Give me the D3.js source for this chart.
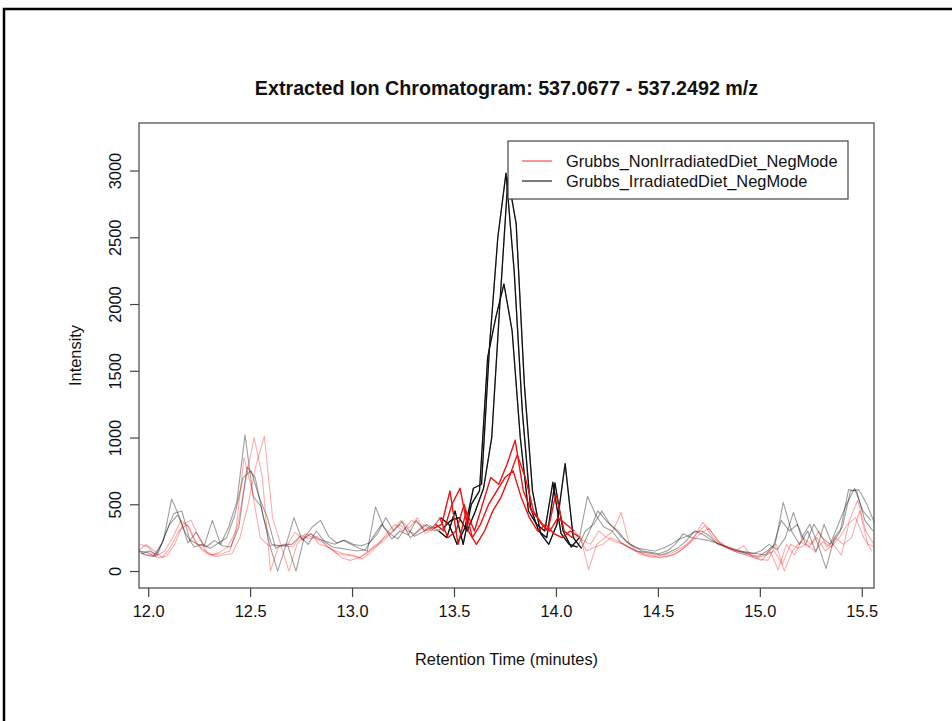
<!DOCTYPE html>
<html>
<head>
<meta charset="utf-8">
<script src="https://cdn.jsdelivr.net/npm/d3@7"></script>
<style>
  body { margin: 0; background: #fff; }
  svg { display: block; font-family: "Liberation Sans", Arial, sans-serif; }
</style>
</head>
<body>
<svg></svg>
<script>
const groupNames = ['Grubbs_NonIrradiatedDiet_NegMode', 'Grubbs_IrradiatedDiet_NegMode']
const titleText = 'Extracted Ion Chromatogram: 537.0677 - 537.2492 m/z'
const xTicks = [12.0, 12.5, 13.0, 13.5, 14.0, 14.5, 15.0, 15.5]
const yTicks = [0, 500, 1000, 1500, 2000, 2500, 3000]

// scan times: first scan of each sample, then one scan every 0.04 min
const scanStep = 0.04
const nonIrrStarts = [11.96, 11.97, 11.95]
const irrStarts = [11.955, 11.965, 11.945]
// integrated peak bounds (minutes) that are drawn in full colour
const nonIrrWindow = [13.40, 14.11]
const irrWindow = [13.41, 14.13]

const nonIrr1 = [200,180,110,150,250,380,330,200,150,120,
  130,150,350,700,1000,700,0,190,190,290,
  240,280,200,180,150,130,120,100,150,200,
  250,300,380,320,400,280,320,350,600,200,
  450,300,500,700,650,800,980,600,450,380,
  300,580,300,250,260,10,200,250,300,440,
  200,150,120,110,120,130,160,200,260,365,
  300,220,180,150,190,110,90,80,200,0,
  150,220,180,250,150,200,120,380,530,300,200]
const nonIrr2 = [130,120,100,110,200,350,380,250,130,110,
  120,130,250,500,800,1010,400,200,0,200,
  280,250,220,170,130,120,110,90,140,200,
  280,350,300,380,350,300,350,300,500,620,
  300,200,300,450,550,700,870,700,450,350,
  300,400,350,300,230,200,300,250,220,200,
  170,130,110,100,110,120,150,200,280,340,
  250,200,170,140,120,100,80,150,10,200,
  120,250,200,300,180,250,200,250,450,200,180]
const nonIrr3 = [150,200,150,100,180,300,350,220,150,120,
  140,180,300,850,600,250,190,190,190,180,
  270,240,260,200,150,100,80,100,130,180,
  220,280,350,300,280,350,300,400,250,300,
  500,250,350,500,600,700,750,550,400,300,
  350,280,250,300,260,150,180,200,250,220,
  180,150,130,120,100,110,130,180,230,280,
  320,230,180,150,130,120,100,120,150,50,
  200,170,200,150,220,180,250,350,400,250,150]
const irr1 = [150,140,110,230,540,400,210,290,190,380,
  200,330,520,1020,560,480,200,0,190,400,
  230,280,240,220,200,230,200,170,150,480,
  330,240,300,270,380,300,330,400,350,200,
  330,620,650,1700,2500,2980,2250,1200,480,300,
  250,660,300,180,250,560,420,330,300,220,
  180,150,140,130,120,140,170,220,290,300,
  260,200,180,160,140,120,110,150,200,515,
  300,200,300,140,350,200,300,610,600,380,300]
const irr2 = [130,150,120,280,430,450,230,200,180,230,
  190,180,330,780,700,400,200,190,190,0,
  250,330,380,260,210,230,200,190,210,280,
  400,300,370,250,300,350,300,320,380,400,
  300,450,620,1000,2000,2950,2600,1400,600,280,
  200,350,805,250,170,300,450,380,320,250,
  200,170,160,150,170,200,240,260,300,270,
  230,200,170,150,140,130,150,200,160,250,
  440,250,350,200,20,250,330,600,610,500,350]
const irr3 = [160,120,110,200,350,420,280,180,200,170,
  210,250,420,700,750,550,400,170,200,200,
  260,200,300,220,180,170,160,150,160,260,
  350,280,240,330,260,290,340,300,250,450,
  200,500,600,1600,1900,2150,1800,1000,450,350,
  300,665,280,200,180,300,350,450,350,300,
  220,180,150,140,130,150,200,280,250,240,
  230,210,190,170,150,140,130,120,180,380,
  300,350,200,350,250,200,350,500,620,450,380]

const dims = { width: 952, height: 721 }
const box = { left: 139, right: 874, top: 123, bottom: 588 }

const svg = d3.select('svg')
  .attr('width', dims.width)
  .attr('height', dims.height)

// frame of the cropped screenshot
svg.append('path')
  .attr('d', `M4,${dims.height} V9 H${dims.width}`)
  .attr('fill', 'none')
  .attr('stroke', '#000')
  .attr('stroke-width', 2.5)

const x = d3.scaleLinear().domain([11.955, 15.56]).range([box.left, box.right])
const y = d3.scaleLinear().domain([-127, 3356]).range([box.bottom, box.top])

svg.append('clipPath').attr('id', 'plotclip')
  .append('rect')
    .attr('x', box.left).attr('y', box.top)
    .attr('width', box.right - box.left).attr('height', box.bottom - box.top)

const traces = [
  { values: irr1, start: irrStarts[0], win: irrWindow, light: 'rgba(0,0,0,0.38)', dark: '#111' },
  { values: irr2, start: irrStarts[1], win: irrWindow, light: 'rgba(0,0,0,0.38)', dark: '#111' },
  { values: irr3, start: irrStarts[2], win: irrWindow, light: 'rgba(0,0,0,0.38)', dark: '#111' },
  { values: nonIrr1, start: nonIrrStarts[0], win: nonIrrWindow, light: 'rgba(255,0,0,0.33)', dark: '#ee1111' },
  { values: nonIrr2, start: nonIrrStarts[1], win: nonIrrWindow, light: 'rgba(255,0,0,0.33)', dark: '#ee1111' },
  { values: nonIrr3, start: nonIrrStarts[2], win: nonIrrWindow, light: 'rgba(255,0,0,0.33)', dark: '#ee1111' }
]
traces.forEach(t => {
  t.points = t.values.map((v, i) => [t.start + scanStep * i, v])
  t.peak = t.points.filter(p => p[0] >= t.win[0] && p[0] <= t.win[1])
})

const line = d3.line().x(d => x(d[0])).y(d => y(d[1]))

const linesG = svg.append('g').attr('clip-path', 'url(#plotclip)')
linesG.selectAll('path.full').data(traces)
  .enter().append('path')
    .attr('class', 'full')
    .attr('fill', 'none')
    .attr('stroke', d => d.light)
    .attr('stroke-width', 1.1)
    .attr('stroke-linejoin', 'round')
    .attr('d', d => line(d.points))
linesG.selectAll('path.peak').data(traces)
  .enter().append('path')
    .attr('class', 'peak')
    .attr('fill', 'none')
    .attr('stroke', d => d.dark)
    .attr('stroke-width', 1.3)
    .attr('stroke-linejoin', 'round')
    .attr('d', d => line(d.peak))

// plot box
svg.append('rect')
  .attr('x', box.left).attr('y', box.top)
  .attr('width', box.right - box.left).attr('height', box.bottom - box.top)
  .attr('fill', 'none')
  .attr('stroke', '#444')
  .attr('stroke-width', 1.2)

// axes
const xAxis = svg.append('g')
  .attr('transform', `translate(0,${box.bottom})`)
  .call(d3.axisBottom(x).tickValues(xTicks).tickFormat(d3.format('.1f')).tickSize(9).tickPadding(8))
xAxis.select('.domain').remove()
xAxis.selectAll('line').attr('stroke', '#444').attr('stroke-width', 1.2)
xAxis.selectAll('text').attr('font-size', 16.4).attr('font-family', null).attr('fill', '#111')

const yAxis = svg.append('g')
  .attr('transform', `translate(${box.left},0)`)
  .call(d3.axisLeft(y).tickValues(yTicks).tickFormat(d3.format('d')).tickSize(9))
yAxis.select('.domain').remove()
yAxis.selectAll('line').attr('stroke', '#444').attr('stroke-width', 1.2)
yAxis.selectAll('text')
  .attr('font-size', 16.4).attr('font-family', null).attr('fill', '#111')
  .attr('transform', 'rotate(-90)')
  .attr('x', 0).attr('y', -18).attr('dy', null)
  .attr('text-anchor', 'middle')

// titles
svg.append('text')
  .attr('x', (box.left + box.right) / 2).attr('y', 95)
  .attr('text-anchor', 'middle')
  .attr('font-weight', 'bold')
  .attr('font-size', 19.7)
  .attr('fill', '#111')
  .text(titleText)
svg.append('text')
  .attr('x', (box.left + box.right) / 2).attr('y', 665)
  .attr('text-anchor', 'middle')
  .attr('font-size', 16.4)
  .attr('fill', '#111')
  .text('Retention Time (minutes)')
svg.append('text')
  .attr('transform', `translate(81,${(box.top + box.bottom) / 2}) rotate(-90)`)
  .attr('text-anchor', 'middle')
  .attr('font-size', 16.4)
  .attr('fill', '#111')
  .text('Intensity')

// legend
const legendColors = ['#f06060', '#333']
const legend = svg.append('g').attr('transform', 'translate(508,141)')
legend.append('rect')
  .attr('width', 340).attr('height', 58)
  .attr('fill', '#fff')
  .attr('stroke', '#444')
  .attr('stroke-width', 1.2)
const items = legend.selectAll('g.item').data(groupNames)
  .enter().append('g')
    .attr('class', 'item')
    .attr('transform', (d, i) => `translate(0,${20 + i * 20})`)
items.append('line')
  .attr('x1', 14).attr('x2', 44)
  .attr('stroke', (d, i) => legendColors[i])
  .attr('stroke-width', 1.3)
items.append('text')
  .attr('x', 58).attr('dy', '0.36em')
  .attr('font-size', 16.4)
  .attr('fill', '#111')
  .text(d => d)
</script>
</body>
</html>
